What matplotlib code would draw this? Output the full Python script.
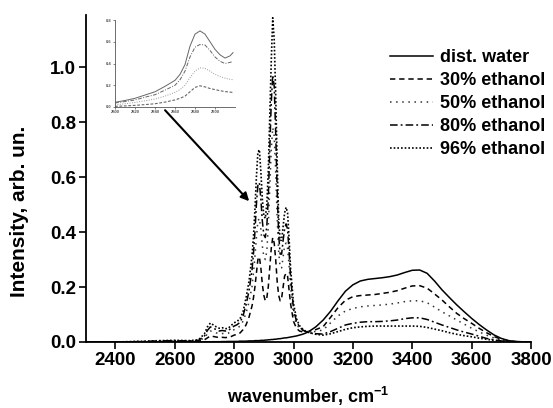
import matplotlib
matplotlib.use("Agg")
import matplotlib.pyplot as plt

plt.rcParams['font.family'] = ['Liberation Sans', 'DejaVu Sans']
plt.rcParams['font.weight'] = 'bold'
plt.rcParams['mathtext.fontset'] = 'custom'
plt.rcParams['mathtext.rm'] = 'Liberation Sans:bold'
plt.rcParams['mathtext.it'] = 'Liberation Sans:bold'
plt.rcParams['mathtext.bf'] = 'Liberation Sans:bold'

# ---------------- main data ----------------
wavenumber = [2300, 2400, 2500, 2550, 2600, 2650, 2680, 2700, 2710, 2720, 2730, 2740, 2750, 2760,
              2770, 2780, 2790, 2800, 2810, 2820, 2830, 2840, 2850, 2860, 2865, 2870, 2875, 2880,
              2885, 2890, 2895, 2900, 2905, 2910, 2915, 2920, 2925, 2930, 2935, 2940, 2945, 2950,
              2955, 2960, 2965, 2970, 2975, 2980, 2985, 2990, 3000, 3010, 3020, 3030, 3040, 3050,
              3075, 3100, 3125, 3150, 3175, 3200, 3225, 3250, 3275, 3300, 3325, 3350, 3375, 3400,
              3425, 3450, 3475, 3500, 3525, 3550, 3575, 3600, 3625, 3650, 3675, 3700, 3725, 3750,
              3775, 3800]

water = [0, 0, 0, 0, 0, 0, 0, 0, 0.0005, 0.0005, 0.001, 0.001, 0.001, 0.0015,
         0.0015, 0.002, 0.002, 0.002, 0.002, 0.003, 0.003, 0.003, 0.004, 0.004, 0.004, 0.005, 0.005, 0.005,
         0.005, 0.006, 0.006, 0.006, 0.007, 0.007, 0.008, 0.008, 0.009, 0.009, 0.010, 0.010, 0.011, 0.012,
         0.012, 0.013, 0.014, 0.015, 0.015, 0.016, 0.017, 0.018, 0.020, 0.022, 0.025, 0.028, 0.032, 0.037,
         0.055, 0.080, 0.112, 0.150, 0.185, 0.208, 0.222, 0.228, 0.231, 0.234, 0.238, 0.244, 0.253, 0.261,
         0.262, 0.250, 0.222, 0.190, 0.162, 0.135, 0.110, 0.086, 0.064, 0.044, 0.026, 0.013, 0.005, 0.002,
         0.0005, 0]

eth30 = [0, 0, 0.001, 0.002, 0.002, 0.002, 0.003, 0.008, 0.015, 0.022, 0.020, 0.018, 0.016, 0.017,
         0.016, 0.017, 0.020, 0.025, 0.028, 0.033, 0.045, 0.062, 0.090, 0.130, 0.160, 0.200, 0.250, 0.300,
         0.310, 0.270, 0.210, 0.170, 0.150, 0.160, 0.200, 0.270, 0.340, 0.380, 0.360, 0.300, 0.220, 0.170,
         0.150, 0.160, 0.200, 0.240, 0.250, 0.240, 0.190, 0.140, 0.075, 0.050, 0.040, 0.037, 0.037, 0.038,
         0.045, 0.056, 0.090, 0.125, 0.152, 0.165, 0.169, 0.171, 0.173, 0.177, 0.181, 0.187, 0.196, 0.204,
         0.205, 0.196, 0.175, 0.153, 0.128, 0.104, 0.085, 0.068, 0.050, 0.034, 0.020, 0.010, 0.004, 0.001,
         0, 0]

eth50 = [0, 0, 0.001, 0.003, 0.004, 0.003, 0.004, 0.015, 0.030, 0.040, 0.037, 0.033, 0.030, 0.031,
         0.030, 0.032, 0.038, 0.045, 0.050, 0.058, 0.076, 0.105, 0.145, 0.200, 0.250, 0.310, 0.380, 0.440,
         0.450, 0.410, 0.350, 0.310, 0.300, 0.330, 0.420, 0.560, 0.700, 0.780, 0.750, 0.620, 0.450, 0.330,
         0.270, 0.270, 0.310, 0.350, 0.360, 0.340, 0.280, 0.200, 0.100, 0.065, 0.050, 0.042, 0.038, 0.037,
         0.038, 0.044, 0.070, 0.095, 0.113, 0.122, 0.128, 0.131, 0.133, 0.135, 0.138, 0.142, 0.147, 0.150,
         0.150, 0.143, 0.127, 0.110, 0.095, 0.080, 0.065, 0.050, 0.037, 0.025, 0.015, 0.007, 0.003, 0.001,
         0, 0]

eth80 = [0, 0, 0.002, 0.004, 0.005, 0.004, 0.006, 0.022, 0.042, 0.055, 0.050, 0.045, 0.040, 0.042,
         0.040, 0.042, 0.050, 0.058, 0.063, 0.072, 0.095, 0.135, 0.185, 0.260, 0.320, 0.400, 0.500, 0.570,
         0.580, 0.520, 0.440, 0.390, 0.380, 0.420, 0.520, 0.700, 0.870, 0.970, 0.930, 0.760, 0.550, 0.390,
         0.320, 0.320, 0.370, 0.410, 0.430, 0.410, 0.330, 0.240, 0.120, 0.075, 0.055, 0.045, 0.038, 0.034,
         0.030, 0.029, 0.038, 0.050, 0.062, 0.068, 0.072, 0.074, 0.074, 0.075, 0.077, 0.080, 0.085, 0.088,
         0.088, 0.082, 0.072, 0.062, 0.053, 0.044, 0.036, 0.029, 0.021, 0.013, 0.008, 0.004, 0.001, 0,
         0, 0]

eth96 = [0, 0, 0.003, 0.005, 0.006, 0.005, 0.008, 0.030, 0.055, 0.069, 0.062, 0.055, 0.050, 0.052,
         0.048, 0.050, 0.060, 0.070, 0.075, 0.085, 0.110, 0.160, 0.220, 0.310, 0.380, 0.480, 0.600, 0.690,
         0.700, 0.620, 0.520, 0.460, 0.450, 0.500, 0.620, 0.820, 1.020, 1.180, 1.100, 0.900, 0.650, 0.450,
         0.370, 0.370, 0.420, 0.470, 0.490, 0.470, 0.380, 0.270, 0.140, 0.085, 0.060, 0.048, 0.040, 0.035,
         0.028, 0.025, 0.030, 0.038, 0.046, 0.052, 0.055, 0.057, 0.058, 0.058, 0.058, 0.058, 0.058, 0.058,
         0.057, 0.053, 0.047, 0.041, 0.034, 0.028, 0.023, 0.019, 0.014, 0.010, 0.006, 0.003, 0.001, 0,
         0, 0]

labels = ['dist. water', '30% ethanol', '50% ethanol', '80% ethanol', '96% ethanol']
xticks = [2400, 2600, 2800, 3000, 3200, 3400, 3600, 3800]
yticks = [0.0, 0.2, 0.4, 0.6, 0.8, 1.0]

# ---------------- inset data ----------------
inset_x = [2800, 2810, 2820, 2830, 2840, 2850, 2860, 2865, 2870, 2875, 2880, 2885, 2890, 2895,
           2900, 2905, 2910, 2915, 2918]
inset_solid = [0.043, 0.060, 0.080, 0.110, 0.140, 0.190, 0.245, 0.300, 0.390, 0.560, 0.670, 0.700, 0.670, 0.600,
               0.530, 0.480, 0.450, 0.470, 0.500]
inset_dashdot = [0.037, 0.050, 0.065, 0.090, 0.113, 0.155, 0.200, 0.250, 0.330, 0.460, 0.550, 0.575, 0.570, 0.520,
                 0.460, 0.420, 0.400, 0.410, 0.420]
inset_dotted = [0.020, 0.030, 0.042, 0.057, 0.073, 0.100, 0.135, 0.160, 0.200, 0.270, 0.330, 0.360, 0.355, 0.330,
                0.300, 0.280, 0.265, 0.255, 0.250]
inset_dashed = [0.006, 0.010, 0.015, 0.022, 0.030, 0.045, 0.065, 0.080, 0.100, 0.140, 0.180, 0.195, 0.185, 0.170,
                0.160, 0.150, 0.142, 0.137, 0.134]
inset_xticks = [2800, 2820, 2840, 2860, 2880, 2900]
inset_yticks = [0.0, 0.2, 0.4, 0.6, 0.8]

fig = plt.figure(figsize=(5.53, 4.08), dpi=100)
ax = fig.add_axes([85.7 / 553, 1 - 342 / 408, (531 - 85.7) / 553, (342 - 15) / 408])

lw = 1.1
ax.plot(wavenumber, water, color='black', lw=lw, linestyle='-', label=labels[0])
ax.plot(wavenumber, eth30, color='black', lw=lw, linestyle=(0, (3.5, 2.5)), label=labels[1])
ax.plot(wavenumber, eth50, color='#333333', lw=lw, linestyle=(0, (1, 3)), label=labels[2])
ax.plot(wavenumber, eth80, color='black', lw=lw, linestyle=(0, (5, 2, 1.2, 2)), label=labels[3])
ax.plot(wavenumber, eth96, color='black', lw=1.2, linestyle=(0, (1, 1.2)), label=labels[4])

ax.set_xlim(2300, 3800)
ax.set_ylim(0, 1.19)
ax.set_xticks(xticks)
ax.set_yticks(yticks)
ax.set_yticklabels([f'{v:.1f}' for v in yticks])
ax.tick_params(direction='out', length=5, width=1.2, labelsize=13.5, pad=2)
for s in ['top', 'right']:
    ax.spines[s].set_visible(False)
for s in ['left', 'bottom']:
    ax.spines[s].set_linewidth(1.3)

ax.set_xlabel('wavenumber, cm$^{-1}$', fontsize=13, fontweight='bold', labelpad=12)
ax.set_ylabel('Intensity, arb. un.', fontsize=15, fontweight='bold')
ax.yaxis.set_label_coords(-0.128, 0.40)

leg = ax.legend(loc='upper left', bbox_to_anchor=(390 / 553, 1 - 49 / 408),
                bbox_transform=fig.transFigure, frameon=False, fontsize=13,
                handlelength=2.4, handletextpad=0.35, labelspacing=0.33, borderpad=0,
                borderaxespad=0)
for t in leg.get_texts():
    t.set_fontweight('bold')

ax.annotate('', xy=(2857, 0.505), xytext=(2561, 0.851), xycoords='data',
            arrowprops=dict(arrowstyle='-|>', color='black', lw=1.5, mutation_scale=12))

# inset
ins = fig.add_axes([115 / 553, 1 - 107 / 408, (235 - 115) / 553, (107 - 20) / 408])
gray = '#666666'
ins.plot(inset_x, inset_solid, color=gray, lw=0.7, linestyle='-')
ins.plot(inset_x, inset_dashdot, color=gray, lw=0.7, linestyle=(0, (4, 1.5, 1, 1.5)))
ins.plot(inset_x, inset_dotted, color='#999999', lw=0.7, linestyle=(0, (1, 1.5)))
ins.plot(inset_x, inset_dashed, color=gray, lw=0.8, linestyle=(0, (2.5, 1.5)))
ins.set_xlim(2800, 2920)
ins.set_ylim(0, 0.8)
ins.set_xticks(inset_xticks)
ins.set_yticks(inset_yticks)
ins.set_yticklabels([f'{v:.1f}' for v in inset_yticks])
ins.tick_params(direction='out', length=1.5, width=0.5, labelsize=3, pad=1, colors='#555555')
for s in ['top', 'right']:
    ins.spines[s].set_visible(False)
for s in ['left', 'bottom']:
    ins.spines[s].set_linewidth(0.6)
    ins.spines[s].set_color('#555555')
ins.patch.set_alpha(0)

fig.savefig('out.png', dpi=100)
